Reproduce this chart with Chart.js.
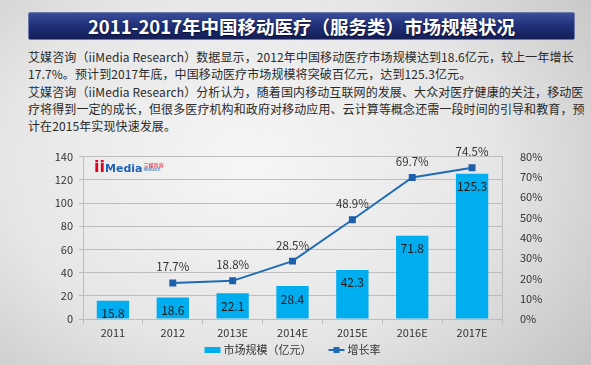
<!DOCTYPE html>
<html>
<head>
<meta charset="utf-8">
<script src="https://cdn.jsdelivr.net/npm/chart.js@4.4.0/dist/chart.umd.min.js"></script>
<style>
  html, body { margin: 0; padding: 0; }
  body {
    width: 591px; height: 365px; overflow: hidden; position: relative;
    font-family: "Noto Sans CJK SC", "Noto Sans", sans-serif;
    background: radial-gradient(ellipse 75% 90% at 42% 45%, #f6f6f6 0%, #e6e6e6 55%, #c2c2c2 100%);
  }
  #titulo {
    position: absolute; left: 28px; top: 12px; width: 547px; height: 28px;
    background: linear-gradient(to bottom, #3b4e9c 0%, #22327a 45%, #141e58 100%);
    border: 1px solid #6b78a8; border-radius: 2px; box-sizing: border-box;
    color: #fff; font-weight: bold; font-size: 18.5px; line-height: 26px; text-align: center;
    text-shadow: 0 1px 2px rgba(0,0,0,0.6);
  }
  #texto {
    position: absolute; left: 28px; top: 48px; color: #2a2a2a;
    font-size: 12px; line-height: 17.3px; white-space: nowrap; letter-spacing: 0.1px;
  }
  #grafico { position: absolute; left: 0; top: 140px; }
  #logo { position: absolute; left: 94px; top: 157px; white-space: nowrap; line-height: 1; }
  #logo .ii { color: #e5001f; font-weight: bold; font-size: 16px; font-family: "DejaVu Sans"; }
  #logo .media { color: #1f62b6; font-weight: bold; font-size: 11px; font-family: "DejaVu Sans"; }
  #logo .sub { display: inline-block; vertical-align: 1px; margin-left: 1px; }
  #logo .cn { color: #e5001f; font-size: 5px; display: block; }
  #logo .en { color: #1f62b6; font-size: 4px; display: block; }
</style>
</head>
<body>
<div id="titulo">2011-2017年中国移动医疗（服务类）市场规模状况</div>
<div id="texto">
  <div>艾媒咨询（iiMedia Research）数据显示，2012年中国移动医疗市场规模达到18.6亿元，较上一年增长</div>
  <div>17.7%。预计到2017年底，中国移动医疗市场规模将突破百亿元，达到125.3亿元。</div>
  <div>艾媒咨询（iiMedia Research）分析认为，随着国内移动互联网的发展、大众对医疗健康的关注，移动医</div>
  <div>疗将得到一定的成长，但很多医疗机构和政府对移动应用、云计算等概念还需一段时间的引导和教育，预</div>
  <div>计在2015年实现快速发展。</div>
</div>
<canvas id="grafico" width="591" height="225"></canvas>
<div id="logo"><span class="ii">ii</span><span class="media">Media</span><span class="sub"><span class="cn">艾媒咨询</span><span class="en">Research</span></span></div>

<script>
// datos
const categorias = ['2011', '2012', '2013E', '2014E', '2015E', '2016E', '2017E'];
const mercado = [15.8, 18.6, 22.1, 28.4, 42.3, 71.8, 125.3];      // 亿元
const crecimiento = [null, 17.7, 18.8, 28.5, 48.9, 69.7, 74.5];   // %
const ejeIzq = [0, 20, 40, 60, 80, 100, 120, 140];
const ejeDer = [0, 10, 20, 30, 40, 50, 60, 70, 80];

const azulBarra = '#00adef';
const azulLinea = '#1f6cb6';
const gris = '#bdbdbd';
const fuente = '"Noto Sans CJK SC", "Noto Sans", sans-serif';

// etiquetas de valores y leyenda dibujadas a mano
const etiquetasPlugin = {
    id: 'etiquetas',
    afterDatasetsDraw(chart) {
        const ctx = chart.ctx;
        ctx.save();
        ctx.textAlign = 'center';
        ctx.textBaseline = 'middle';
        // barras
        ctx.font = '12px ' + fuente;
        ctx.fillStyle = '#1a1a1a';
        chart.getDatasetMeta(1).data.forEach((bar, i) => {
            ctx.fillText(mercado[i].toFixed(1), bar.x, bar.y + 13);
        });
        // linea
        ctx.font = '11.5px ' + fuente;
        ctx.fillStyle = '#333';
        chart.getDatasetMeta(0).data.forEach((pt, i) => {
            if (crecimiento[i] == null) return;
            ctx.fillText(crecimiento[i].toFixed(1) + '%', pt.x, pt.y - 16);
        });
        ctx.restore();
    },
    afterDraw(chart) {
        const ctx = chart.ctx;
        const area = chart.chartArea;
        const y = 210;
        const t1 = chart.data.datasets[1].label;
        const t2 = chart.data.datasets[0].label;
        ctx.save();
        ctx.font = '11px ' + fuente;
        const w1 = ctx.measureText(t1).width;
        const w2 = ctx.measureText(t2).width;
        const total = 16 + 3 + w1 + 17 + 16 + 3 + w2;
        let x = (area.left + area.right) / 2 - total / 2;
        ctx.fillStyle = azulBarra;
        ctx.fillRect(x, y - 3, 16, 6);
        x += 19;
        ctx.fillStyle = '#333';
        ctx.textBaseline = 'middle';
        ctx.fillText(t1, x, y);
        x += w1 + 17;
        ctx.strokeStyle = azulLinea;
        ctx.lineWidth = 2;
        ctx.beginPath();
        ctx.moveTo(x, y);
        ctx.lineTo(x + 16, y);
        ctx.stroke();
        ctx.fillStyle = azulLinea;
        ctx.fillRect(x + 5, y - 3, 6, 6);
        x += 19;
        ctx.fillStyle = '#333';
        ctx.fillText(t2, x, y);
        ctx.restore();
    }
};

const ctx = document.getElementById('grafico').getContext('2d');
const miGrafico = new Chart(ctx, {
    type: 'bar',
    data: {
        labels: categorias,
        datasets: [{
            type: 'line',
            label: '增长率',
            data: crecimiento,
            yAxisID: 'y1',
            borderColor: azulLinea,
            backgroundColor: azulLinea,
            borderWidth: 2,
            pointStyle: 'rect',
            pointRadius: 3.5,
            pointBackgroundColor: '#1d5fa9',
            pointBorderColor: '#1d5fa9',
            tension: 0,
            spanGaps: false,
            order: 0
        }, {
            type: 'bar',
            label: '市场规模（亿元）',
            data: mercado,
            yAxisID: 'y',
            backgroundColor: azulBarra,
            barPercentage: 0.54,
            categoryPercentage: 1,
            order: 1
        }]
    },
    options: {
        responsive: false,
        animation: false,
        layout: { padding: { top: 15, left: 0, right: 0, bottom: 0 } },
        plugins: {
            legend: { display: false },
            tooltip: { enabled: false }
        },
        scales: {
            x: {
                grid: { display: true, drawOnChartArea: false, drawTicks: true, tickLength: 5, color: gris, offset: true },
                border: { display: true, color: gris },
                ticks: { color: '#333', font: { size: 11, family: fuente }, padding: 2 },
                afterFit(scale) { scale.height = 46; }
            },
            y: {
                position: 'left',
                min: 0, max: 140,
                afterBuildTicks(scale) { scale.ticks = ejeIzq.map(v => ({ value: v })); },
                grid: { color: gris, tickLength: 4 },
                border: { display: true, color: gris },
                ticks: { color: '#333', font: { size: 11, family: fuente }, padding: 6 },
                afterFit(scale) { scale.width = 83; }
            },
            y1: {
                position: 'right',
                min: 0, max: 80,
                afterBuildTicks(scale) { scale.ticks = ejeDer.map(v => ({ value: v })); },
                grid: { display: false, drawOnChartArea: false },
                border: { display: true, color: gris },
                ticks: { color: '#333', font: { size: 11, family: fuente }, padding: 10, callback: v => v + '%' },
                afterFit(scale) { scale.width = 89; }
            }
        }
    },
    plugins: [etiquetasPlugin]
});
</script>
</body>
</html>
